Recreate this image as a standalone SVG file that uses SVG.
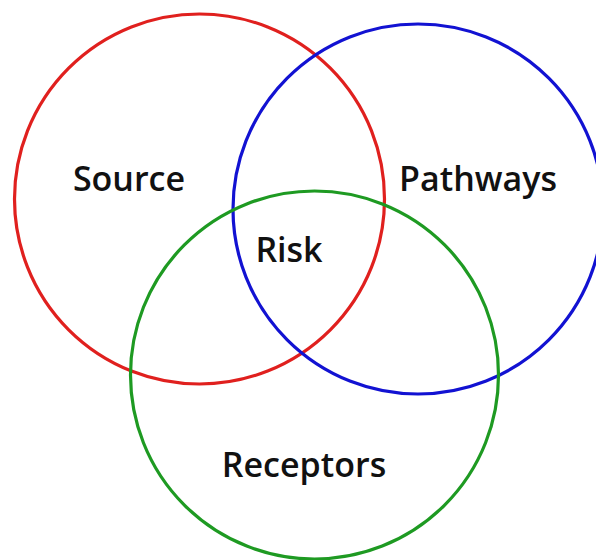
<svg xmlns="http://www.w3.org/2000/svg" width="596" height="560" viewBox="0 0 596 560">
<style>
.c{fill:none;stroke-width:3.2}
.t{font-family:"Open Sans","Noto Sans",sans-serif;font-weight:600;font-size:34px;fill:#111;text-anchor:middle}
</style>
<rect width="596" height="560" fill="#fff"/>
<g id="source"><circle class="c" cx="199.5" cy="199" r="185" stroke="#e0201e"/><text class="t" x="129" y="191">Source</text></g>
<g id="pathways"><circle class="c" cx="418" cy="209" r="185" stroke="#1212d2"/><text class="t" x="478" y="191">Pathways</text></g>
<g id="receptors"><circle class="c" cx="314.5" cy="375" r="184" stroke="#1e9a22"/><text class="t" x="304" y="477">Receptors</text></g>
<g id="risk"><text class="t" x="289" y="262">Risk</text></g>
<g id="connectors"/>
</svg>
